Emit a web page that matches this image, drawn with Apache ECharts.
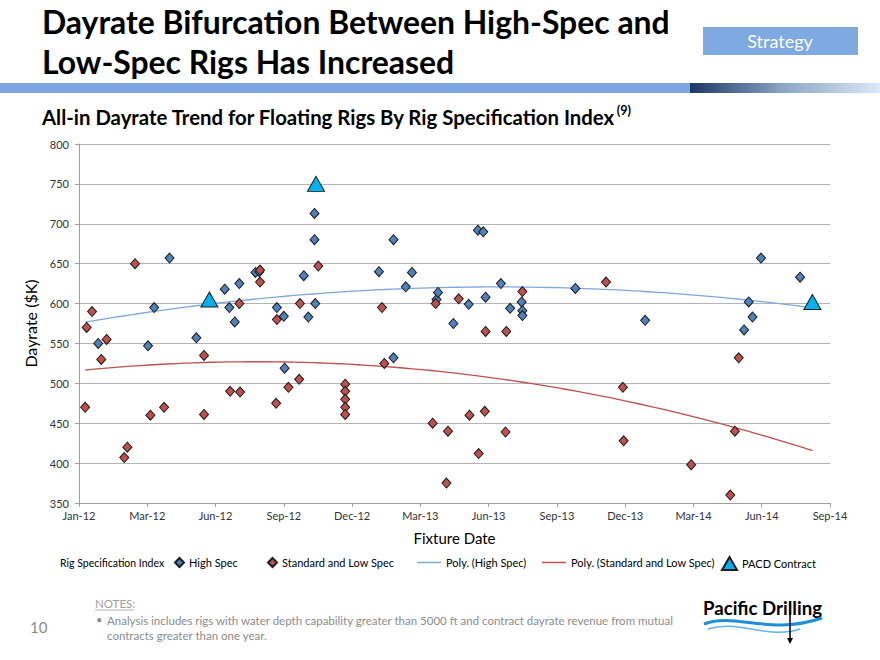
<!DOCTYPE html>
<html><head><meta charset="utf-8">
<script src="https://cdn.jsdelivr.net/npm/echarts@6/dist/echarts.min.js"></script>
<style>html,body{margin:0;padding:0;background:#fff}#c{width:880px;height:660px}</style>
</head><body><div id="c"></div>
<script>
// ---------------- data ----------------
const highSpecDates = ['2012-01-26','2012-03-31','2012-04-08','2012-04-28','2012-06-02','2012-07-09','2012-07-15','2012-07-22','2012-07-28','2012-08-18','2012-08-23','2012-09-15','2012-09-24','2012-09-25','2012-10-20','2012-10-26','2012-11-04','2012-11-03','2012-11-03','2013-01-26','2013-02-14','2013-02-14','2013-03-02','2013-03-10','2013-04-11','2013-04-13','2013-05-03','2013-05-23','2013-06-04','2013-06-11','2013-06-14','2013-07-04','2013-07-16','2013-07-31','2013-08-01','2013-08-01','2013-10-09','2014-01-08','2014-05-17','2014-05-23','2014-05-28','2014-06-08','2014-07-29'];
const highSpecDayrates = [550,547,595,657,557,618,595,577,625,639,640,595,584,519,635,583,600,680,713,640,532,680,621,639,605,614,575,599,692,690,608,625,594,602,591,585,619,579,567,602,583,657,633];

const lowSpecDates = ['2012-01-09','2012-01-11','2012-01-18','2012-01-30','2012-02-06','2012-02-29','2012-03-04','2012-03-14','2012-04-03','2012-04-21','2012-06-12','2012-06-12','2012-07-16','2012-07-28','2012-07-29','2012-08-24','2012-08-24','2012-09-14','2012-09-15','2012-09-30','2012-10-14','2012-10-15','2012-11-08','2012-12-13','2012-12-13','2012-12-13','2012-12-13','2012-12-13','2013-01-30','2013-02-02','2013-04-06','2013-04-10','2013-04-24','2013-04-26','2013-05-10','2013-05-24','2013-06-05','2013-06-13','2013-06-14','2013-07-10','2013-07-11','2013-08-01','2013-11-18','2013-12-10','2013-12-11','2014-03-09','2014-04-29','2014-05-05','2014-05-10'];
const lowSpecDayrates = [470,570,590,530,555,407,420,650,460,470,535,461,490,600,489,642,627,475,580,495,505,600,647,499,490,480,470,461,595,525,450,600,375,440,606,460,412,465,565,439,565,615,627,495,428,398,360,440,532];

const pacdDates = ['2012-06-19','2012-11-05','2014-08-14'];
const pacdDayrates = [605,750,602];

const axisStartDate = '2012-01-01';
const xTickStepDays = 89;
const xTickCount = 11;
const yMin = 350, yMax = 800, yStep = 50;
const monthNames = ['Jan','Feb','Mar','Apr','May','Jun','Jul','Aug','Sep','Oct','Nov','Dec'];

// ---------------- helpers ----------------
const t0 = Date.parse(axisStartDate + 'T00:00:00Z');
function dayOffset(s){ return (Date.parse(s + 'T00:00:00Z') - t0) / 86400000; }
function fmtDay(v){ const d = new Date(t0 + v * 86400000); return monthNames[d.getUTCMonth()] + '-' + String(d.getUTCFullYear()).slice(2); }
function pairs(ds, vs){ return ds.map((d,i)=>[dayOffset(d), vs[i]]); }

function polyFit2(xs, ys){
  const n = xs.length, mx = xs.reduce((a,b)=>a+b,0)/n;
  const S=[0,0,0,0,0], T=[0,0,0];
  for(let i=0;i<n;i++){ const u=xs[i]-mx; let p=1; for(let k=0;k<5;k++){S[k]+=p;p*=u;} T[0]+=ys[i]; T[1]+=ys[i]*u; T[2]+=ys[i]*u*u; }
  const M=[[S[0],S[1],S[2]],[S[1],S[2],S[3]],[S[2],S[3],S[4]]];
  const det=m=>m[0][0]*(m[1][1]*m[2][2]-m[1][2]*m[2][1])-m[0][1]*(m[1][0]*m[2][2]-m[1][2]*m[2][0])+m[0][2]*(m[1][0]*m[2][1]-m[1][1]*m[2][0]);
  const D=det(M); const c=[];
  for(let j=0;j<3;j++){ const m=M.map((r,i)=>r.map((v,k)=>k===j?T[i]:v)); c.push(det(m)/D); }
  return x=>{const u=x-mx; return c[0]+c[1]*u+c[2]*u*u;};
}

const hsData = pairs(highSpecDates, highSpecDayrates);
const lsData = pairs(lowSpecDates, lowSpecDayrates);
const pcData = pairs(pacdDates, pacdDayrates);
const allX = hsData.concat(lsData, pcData).map(p=>p[0]);
const xLo = Math.min(...allX), xHi = Math.max(...allX);
function trend(data){
  const f = polyFit2(data.map(p=>p[0]), data.map(p=>p[1]));
  const out=[]; const N=80;
  for(let i=0;i<=N;i++){ const x=xLo+(xHi-xLo)*i/N; out.push([x, f(x)]); }
  return out;
}

// font fitting
const mctx = document.createElement('canvas').getContext('2d');
function tw(t, font){ mctx.font = font; return mctx.measureText(t).width; }
const titleFam = "Lato, 'Open Sans', sans-serif";
const bodyFam = "Lato, 'Open Sans', sans-serif";
function fit(t, weight, fam, target){ return 100 * target / tw(t, weight + ' 100px ' + fam); }

const title1 = 'Dayrate Bifurcation Between High-Spec and';
const title2 = 'Low-Spec Rigs Has Increased';
const titleSize = fit(title1, 'bold', titleFam, 628);
const subText = 'All-in Dayrate Trend for Floating Rigs By Rig Specification Index';
const subSize = fit(subText, 'bold', titleFam, 574);
const subW = tw(subText, 'bold ' + subSize + 'px ' + titleFam);
const logoSize = fit('Pacific Drilling', 'bold', titleFam, 119);

const chart = echarts.init(document.getElementById('c'), null, {renderer:'svg', width:880, height:660});

const legendBase = {top: 557, itemHeight: 9, textStyle:{fontFamily: bodyFam, fontSize: 11, color:'#000'}, selectedMode:false, padding:0};

chart.setOption({
  animation:false,
  backgroundColor:'#fff',
  textStyle:{fontFamily: bodyFam},
  grid:{left:79, right:50, top:144, bottom:157},
  xAxis:{
    type:'value', min:0, max:xTickStepDays*xTickCount, interval:xTickStepDays,
    name:'Fixture Date', nameLocation:'middle', nameGap:27,
    nameTextStyle:{fontSize:15, color:'#000', fontFamily: bodyFam},
    axisLine:{show:true, lineStyle:{color:'#9e9e9e', width:1}},
    axisTick:{show:true, length:4, lineStyle:{color:'#9e9e9e'}},
    axisLabel:{formatter:fmtDay, fontSize:11, color:'#333', margin:7},
    splitLine:{show:false}
  },
  yAxis:{
    type:'value', min:yMin, max:yMax, interval:yStep,
    name:'Dayrate ($K)', nameLocation:'middle', nameGap:29,
    nameTextStyle:{fontSize:16, color:'#000', fontFamily: bodyFam},
    axisLine:{show:true, lineStyle:{color:'#9e9e9e', width:1}},
    axisTick:{show:true, length:4, lineStyle:{color:'#9e9e9e'}},
    axisLabel:{fontSize:11, color:'#333', margin:10},
    splitLine:{show:true, lineStyle:{color:'#b4b4b4', width:1}}
  },
  legend:[
    Object.assign({}, legendBase, {left:174, itemWidth:9, data:[{name:'High Spec', icon:'diamond'}]}),
    Object.assign({}, legendBase, {left:267, itemWidth:9, data:[{name:'Standard and Low Spec', icon:'diamond'}]}),
    Object.assign({}, legendBase, {left:417, top:557, itemWidth:24, itemHeight:1.5, data:[{name:'Poly. (High Spec)', icon:'rect'}]}),
    Object.assign({}, legendBase, {left:542, top:557, itemWidth:24, itemHeight:1.5, data:[{name:'Poly. (Standard and Low Spec)', icon:'rect'}]}),
    Object.assign({}, legendBase, {left:721, top:556, itemWidth:15, itemHeight:13, data:[{name:'PACD Contract', icon:'triangle'}]})
  ],
  series:[
    {name:'Poly. (High Spec)', type:'line', data:trend(hsData), symbol:'none', smooth:false,
      lineStyle:{color:'#7ea7e0', width:1.3}, itemStyle:{color:'#7ea7e0'}, z:1, silent:true},
    {name:'Poly. (Standard and Low Spec)', type:'line', data:trend(lsData), symbol:'none',
      lineStyle:{color:'#c0504d', width:1.3}, itemStyle:{color:'#c0504d'}, z:1, silent:true},
    {name:'High Spec', type:'scatter', data:hsData, symbol:'diamond', symbolSize:[9,10],
      itemStyle:{color:'#4f81bd', borderColor:'#1b1b1b', borderWidth:1, opacity:1}, z:3},
    {name:'Standard and Low Spec', type:'scatter', data:lsData, symbol:'diamond', symbolSize:[9,10],
      itemStyle:{color:'#c0504d', borderColor:'#1b1b1b', borderWidth:1, opacity:1}, z:3},
    {name:'PACD Contract', type:'scatter', data:pcData, symbol:'triangle', symbolSize:[17,15],
      itemStyle:{color:'#00b0f0', borderColor:'#1b1b1b', borderWidth:1, opacity:1}, z:4}
  ],
  graphic:[
    {type:'text', x:42, y:22, style:{text:title1, font:'bold '+titleSize+'px '+titleFam, fill:'#000', verticalAlign:'middle'}},
    {type:'text', x:42, y:62, style:{text:title2, font:'bold '+titleSize+'px '+titleFam, fill:'#000', verticalAlign:'middle'}},
    {type:'rect', shape:{x:703, y:27, width:155, height:28}, style:{fill:'#7ea9e1'}},
    {type:'text', x:780, y:41, style:{text:'Strategy', font:'18px '+bodyFam, fill:'#fff', align:'center', verticalAlign:'middle'}},
    {type:'rect', shape:{x:0, y:83, width:690, height:10}, style:{fill:'#7ba7e0'}},
    {type:'rect', shape:{x:690, y:83, width:190, height:10}, style:{fill:new echarts.graphic.LinearGradient(0,0,1,0,[{offset:0,color:'#1f3864'},{offset:0.5,color:'#8fa6c8'},{offset:1,color:'#dce8f6'}])}},
    {type:'text', x:42, y:117, style:{text:subText, font:'bold '+subSize+'px '+titleFam, fill:'#000', verticalAlign:'middle'}},
    {type:'text', x:42+subW+1, y:110, style:{text:'(9)', font:'bold '+(subSize*0.62)+'px '+titleFam, fill:'#000', verticalAlign:'middle'}},
    {type:'text', x:60, y:563, style:{text:'Rig Specification Index', font:'10.5px '+bodyFam, fill:'#000', verticalAlign:'middle'}},
    {type:'text', x:95, y:603, style:{text:'NOTES:', font:'11.5px '+bodyFam, fill:'#a0a0a0', verticalAlign:'middle'}},
    {type:'line', shape:{x1:95, y1:610, x2:134, y2:610}, style:{stroke:'#a0a0a0', lineWidth:0.8}},
    {type:'text', x:96, y:619, style:{text:'•', font:'11px '+bodyFam, fill:'#8c8c8c', verticalAlign:'middle'}},
    {type:'text', x:107, y:620, style:{text:'Analysis includes rigs with water depth capability greater than 5000 ft and contract dayrate revenue from mutual', font:'11.5px '+bodyFam, fill:'#8c8c8c', verticalAlign:'middle'}},
    {type:'text', x:107, y:635, style:{text:'contracts greater than one year.', font:'11.5px '+bodyFam, fill:'#8c8c8c', verticalAlign:'middle'}},
    {type:'text', x:30, y:627, style:{text:'10', font:'15px '+bodyFam, fill:'#8c8c8c', verticalAlign:'middle'}},
    {type:'text', x:703, y:608, style:{text:'Pacific Drilling', font:'bold '+logoSize+'px '+titleFam, fill:'#000', verticalAlign:'middle'}},
    {type:'bezierCurve', shape:{x1:704, y1:624, cpx1:735, cpy1:612, cpx2:770, cpy2:636, x2:822, y2:618}, style:{stroke:'#1f8fd8', lineWidth:3, fill:null}},
    {type:'bezierCurve', shape:{x1:708, y1:629, cpx1:738, cpy1:619, cpx2:768, cpy2:640, x2:800, y2:629}, style:{stroke:'#5fb4ea', lineWidth:1.5, fill:null}},
    {type:'line', shape:{x1:790, y1:612, x2:790, y2:640}, style:{stroke:'#000', lineWidth:1.5}},
    {type:'polygon', shape:{points:[[787,638],[793,638],[790,644]]}, style:{fill:'#000'}}
  ]
});
</script></body></html>
